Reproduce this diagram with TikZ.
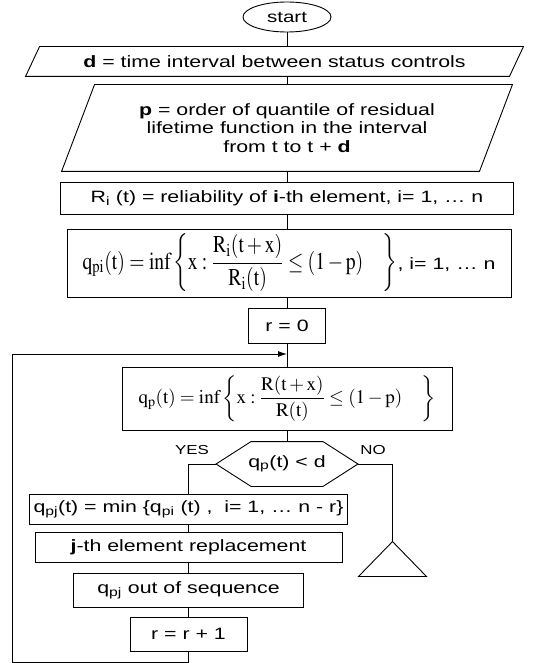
\documentclass[tikz,border=0pt]{standalone}
\usepackage{amsmath}
\usepackage{mathptmx}
\usepackage[no-math]{fontspec}
\setmainfont{Liberation Sans}[FakeStretch=1.3]
\usepackage{graphicx}
\usetikzlibrary{arrows.meta,shapes.geometric}

\begin{document}
\begin{tikzpicture}[x=1pt,y=-1pt,line width=0.9pt,>=Latex,
  every node/.style={font=\fontsize{16.4}{19}\selectfont},
  box/.style={draw,inner sep=0pt,align=center},
  iobox/.style={inner sep=0pt,align=center},
  lab/.style={font=\fontsize{13}{15}\selectfont}]
\useasboundingbox (0,0) rectangle (548,663);
% start and inputs
\node[draw,ellipse,minimum width=88pt,minimum height=30pt,inner sep=0pt,font=\fontsize{15.8}{18}\selectfont] (start) at (287,17) {start};
\node[iobox,minimum width=497pt,minimum height=29pt] (dint) at (274.5,61.5) {\textbf{d} = time interval between status controls};
\draw ([xshift=14pt]dint.north west) -- (dint.north east) -- ([xshift=-14pt]dint.south east) -- (dint.south west) -- cycle;
\node[iobox,minimum width=450pt,minimum height=86pt,font=\fontsize{16.4}{18.5}\selectfont] (pord) at (287,128) {\textbf{p} = order of quantile of residual\\lifetime function in the interval\\from t to t + \textbf{d}};
\draw ([xshift=33pt]pord.north west) -- (pord.north east) -- ([xshift=-33pt]pord.south east) -- (pord.south west) -- cycle;
\node[box,minimum width=453pt,minimum height=32pt] (rel) at (287,198) {R\textsubscript{i} (t) = reliability of \textbf{i}-th element, i= 1, … n};
\node[box,minimum width=444pt,minimum height=68pt] (qpi) at (289,263) {\resizebox*{315pt}{58pt}{$\displaystyle\mathrm{q}_{\mathrm{pi}}(\mathrm{t})=\inf\left\{\mathrm{x}:\frac{\mathrm{R}_{\mathrm{i}}(\mathrm{t}+\mathrm{x})}{\mathrm{R}_{\mathrm{i}}(\mathrm{t})}\le(1-\mathrm{p})\quad\right\}$}, i= 1, … n};
\node[box,minimum width=77pt,minimum height=35pt] (rzero) at (287,325.5) {r = 0};
\coordinate (join) at (287,354);
% loop body
\node[box,minimum width=330pt,minimum height=63pt] (qp) at (287,398.5) {\resizebox*{297pt}{46pt}{$\displaystyle\mathrm{q}_{\mathrm{p}}(\mathrm{t})=\inf\left\{\mathrm{x}:\frac{\mathrm{R}(\mathrm{t}+\mathrm{x})}{\mathrm{R}(\mathrm{t})}\le(1-\mathrm{p})\quad\right\}$}};
\node[iobox,minimum width=141pt,minimum height=44pt] (test) at (287,464) {q\textsubscript{p}(t) < d};
\draw (test.west) -- ([xshift=35pt]test.north west) -- ([xshift=-35pt]test.north east) -- (test.east) -- ([xshift=-35pt]test.south east) -- ([xshift=35pt]test.south west) -- cycle;
\node[lab] (yes) at (192,450) {YES};
\node[lab] (no) at (373,450) {NO};
\node[box,minimum width=318pt,minimum height=30pt] (qpj) at (188.5,509) {q\textsubscript{pj}(t) = min \{q\textsubscript{pi} (t) ,\ \ i= 1, … n - r\}};
\node[box,minimum width=307pt,minimum height=30pt] (repl) at (188.5,547) {\textbf{j}-th element replacement};
\node[box,minimum width=230pt,minimum height=34pt] (outseq) at (188.5,590) {q\textsubscript{pj} out of sequence};
\node[box,minimum width=117pt,minimum height=34pt] (incr) at (188.5,634) {r = r + 1};
\node[minimum width=67pt,minimum height=34pt,inner sep=0pt] (stop) at (392.5,559) {};
\draw (stop.north) -- (stop.south east) -- (stop.south west) -- cycle;
\coordinate (back) at (12,662);
% connectors
\draw (start.south) -- (start.south |- dint.north);
\draw (pord.north |- dint.south) -- (pord.north);
\draw (pord.south) -- (rel.north);
\draw (rel.south) -- (rel.south |- qpi.north);
\draw (qpi.south -| rzero.north) -- (rzero.north);
\draw (rzero.south) -- (qp.north);
\draw (qp.south) -- (test.north);
\draw (test.west) -| (qpj.north);
\draw (test.east) -| (stop.north);
\draw (qpj.south) -- (repl.north);
\draw (repl.south) -- (outseq.north);
\draw (outseq.south) -- (incr.north);
\draw[-{Latex[length=9pt,width=6pt]}] (incr.south) |- (back) |- (join);
\end{tikzpicture}
\end{document}
